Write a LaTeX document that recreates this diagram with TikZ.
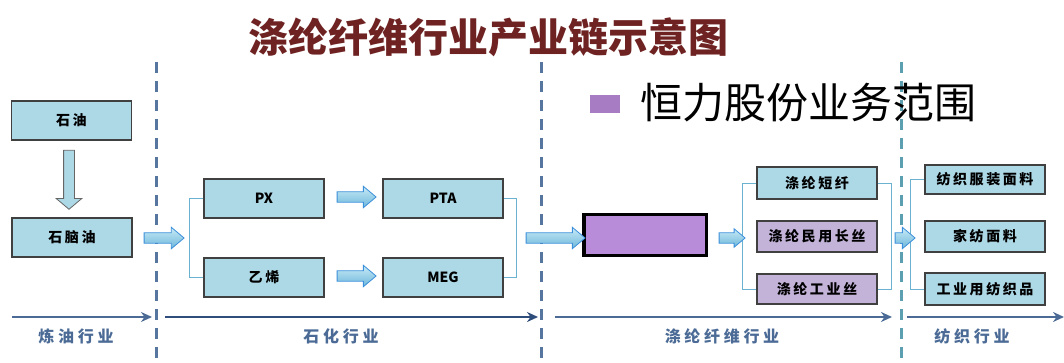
\documentclass[tikz,border=0pt]{standalone}
\usepackage{fontspec}
\setmainfont{Noto Sans CJK SC}
\newfontfamily\boxcjk[LetterSpace=18]{Noto Sans CJK SC}
\newfontfamily\axiscjk[LetterSpace=23]{Noto Sans CJK SC}
\usetikzlibrary{shapes.arrows,arrows.meta}

\definecolor{boxblue}{HTML}{ADD8E6}
\definecolor{boxpurple}{HTML}{C3B3D9}
\definecolor{henglipurple}{HTML}{B98CD9}
\definecolor{legendpurple}{HTML}{A87CC2}
\definecolor{titlered}{HTML}{6E2222}
\definecolor{axisblue}{HTML}{4B6B96}
\definecolor{axisdark}{HTML}{2F4D7B}
\definecolor{bracketblue}{HTML}{6AB2D0}
\definecolor{arrowedge}{HTML}{3C8FDA}
\definecolor{arrowtop}{HTML}{C8EAF6}
\definecolor{arrowbottom}{HTML}{6CB6DA}
\definecolor{dashblue}{HTML}{5676A0}
\definecolor{dashteal}{HTML}{5C9FB0}

\begin{document}
\begin{tikzpicture}[x=1pt,y=-1pt,
    stage/.style={rectangle,draw=black!75,line width=1.2pt,fill=boxblue,
      minimum width=120pt,minimum height=39pt,inner sep=0pt,
      font=\boxcjk\bfseries\fontsize{14}{16}\selectfont},
    latin/.style={font=\bfseries\fontsize{14}{16}\selectfont},
    flow/.style={single arrow,draw=arrowedge,line width=0.8pt,
      top color=arrowtop,bottom color=arrowbottom,inner xsep=0pt,inner ysep=4.8pt,
      single arrow head extend=5.5pt,single arrow tip angle=80,
      minimum width=0pt,minimum height=#1},
    bracket/.style={draw=bracketblue,line width=0.9pt},
    sector/.style={draw=axisblue,line width=1.8pt,-{Stealth[length=11pt,width=10pt]}},
    sectorlabel/.style={text=axisblue,font=\axiscjk\bfseries\fontsize{16}{18}\selectfont},
    divider/.style={line width=3pt,dash pattern=on 11pt off 8pt}]

  \useasboundingbox (0,0) rectangle (1064,363);

  % industry borders
  \draw[divider,draw=dashblue] (156,62) -- (156,363);
  \draw[divider,draw=dashblue] (541,62) -- (541,363);
  \draw[divider,draw=dashteal] (901,62) -- (901,363);

  \node[font=\bfseries\fontsize{40}{44}\selectfont,text=titlered] (title) at (488.5,37) {涤纶纤维行业产业链示意图};

  \node[fill=legendpurple,minimum width=30pt,minimum height=18pt,inner sep=0pt] (legbox) at (605,104) {};
  \node[anchor=west,inner sep=0pt,font=\fontsize{42}{46}\selectfont] (legtext) at (640,103) {恒力股份业务范围};

  \begin{scope}[every node/.style={stage}]
    \node (oil)      at (71.5,120.5) {石油};
    \node (naphtha)  at (72,237.5)   {石脑油};
    \node[latin] (px)  at (264,198.5) {PX};
    \node (ethylene) at (264,277.5)  {乙烯};
    \node[latin] (pta) at (443,198.5) {PTA};
    \node[latin] (meg) at (443,277.5) {MEG};
    \node[minimum height=32pt] (staple) at (817,183) {涤纶短纤};
    \node[minimum height=31pt,fill=boxpurple] (civil) at (817,236.5) {涤纶民用长丝};
    \node[minimum height=30pt,fill=boxpurple] (industrial) at (817,289) {涤纶工业丝};
    \node[minimum height=29pt] (apparel) at (985,179.5) {纺织服装面料};
    \node[minimum height=31pt] (hometex) at (985,236.5) {家纺面料};
    \node[minimum height=32pt] (techtex) at (985,289)   {工业用纺织品};
  \end{scope}

  \node[rectangle,draw=black,line width=3.5pt,fill=henglipurple,
    minimum width=122.5pt,minimum height=40.5pt] (hengli) at (645,235) {};

  % brackets
  \draw[bracket] (px.west) -- ++(-14,0) |- (ethylene.west);
  \draw[bracket] (pta.east) -- ++(13,0) |- (meg.east);
  \draw[bracket] (staple.west) -- ++(-14,0) |- (industrial.west);
  \draw[bracket] (staple.east) -- ++(14,0) |- (industrial.east);
  \draw[bracket] (apparel.west) -- ++(-14,0) |- (techtex.west);

  % block arrows
  \node[single arrow,draw=black!60,line width=0.8pt,fill=boxblue,shape border rotate=270,
    inner sep=5pt,single arrow head extend=7.5pt,single arrow tip angle=100,
    minimum width=0pt,minimum height=59pt] (crack) at (69,177.5) {};
  \node[flow=40pt] (feed)   at (161,238)   {};
  \node[flow=39pt] (oxid)   at (353.5,197) {};
  \node[flow=39pt] (glycol) at (353.5,276) {};
  \node[flow=59pt] (poly)   at (552.5,238) {};
  \node[flow=26pt,single arrow head extend=4pt] (spin) at (729,238) {};
  \node[flow=20pt] (weave)  at (902,238)   {};

  % sector axis
  \coordinate (s0) at (12,317);
  \coordinate (s1) at (152,317);
  \coordinate (s2) at (165,317);
  \coordinate (s3) at (538,317);
  \coordinate (s4) at (555,317);
  \coordinate (s5) at (892,317);
  \coordinate (s6) at (907,317);
  \coordinate (s7) at (1064,317);
  \draw[sector] (s0) -- (s1);
  \draw[sector,draw=axisdark,line width=2.4pt] (s2) -- (s3);
  \draw[sector] (s4) -- (s5);
  \draw[sector] (s6) -- (s7);

  \node[sectorlabel] (refining) at (76,336)  {炼油行业};
  \node[sectorlabel] (petchem)  at (341,336) {石化行业};
  \node[sectorlabel] (fibre)    at (722,336) {涤纶纤维行业};
  \node[sectorlabel] (textile)  at (972,336) {纺织行业};

\end{tikzpicture}
\end{document}
